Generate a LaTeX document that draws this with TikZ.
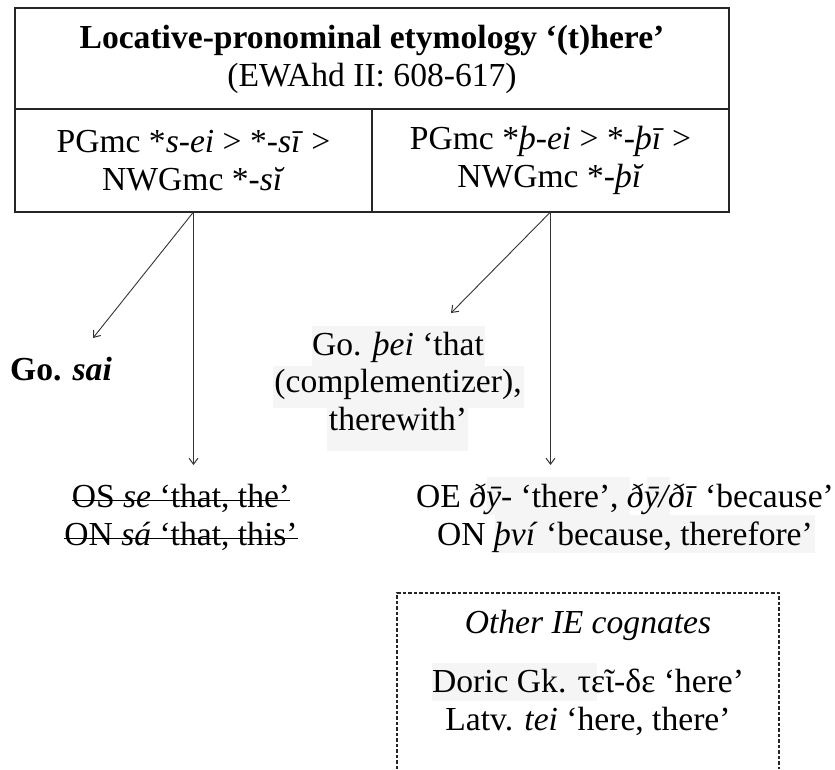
\documentclass[tikz,border=0pt]{standalone}
\usepackage{fontspec}
\setmainfont{Liberation Serif}
\usetikzlibrary{arrows.meta}
\begin{document}
\begin{tikzpicture}[x=1pt,y=-1pt,
  every node/.style={font=\fontsize{33.6}{38}\selectfont, inner sep=0pt},
  frame/.style={draw=black!85, line width=1.6pt, line join=miter},
  cell/.style={frame, outer sep=0pt, minimum width=357pt, minimum height=103pt, align=center},
  txt/.style={anchor=base},
  hl/.style={fill=black!4, draw=none},
  conn/.style={draw=black!80, line width=0.9pt, -{Straight Barb[length=6pt,width=9pt,line width=1pt]}},
  strike/.style={draw=black, line width=1pt},
  cogbox/.style={draw=black!85, line width=1.3pt, dash pattern=on 3.5pt off 2pt}]
\useasboundingbox (0,0) rectangle (835,769);

% faint highlight strips behind some glosses
\fill[hl] (312,326) rectangle (485,366);
\fill[hl] (273,366) rectangle (524,408);
\fill[hl] (327,408) rectangle (468,451);
\fill[hl] (487,477) rectangle (630,515);
\fill[hl] (647,477) rectangle (670,515);
\fill[hl] (495,515) rectangle (815,553);
\fill[hl] (432,663) rectangle (597,701);

% header: two cells with the title row above them
\node[cell] (pl) at (193.5,160.5)
  {PGmc *\textit{s-ei} > *\textit{-sī} >\\NWGmc *\textit{-sĭ}};
\node[cell] (pr) at (550.5,160.5)
  {PGmc *\textit{þ-ei} > *\textit{-þī} >\\NWGmc *\textit{-þĭ}};
\draw[frame] (pl.north west) -- ++(0,-101) -| (pr.north east);
\node[align=center] (title) at (372,59)
  {\textbf{Locative-pronominal etymology ‘(t)here’}\\(EWAhd II: 608-617)};

% reflexes
\node[txt] (gosai) at (61,380) {\textbf{Go. \textit{sai}}};
\node[txt] (th1) at (398,355) {Go. \textit{þei} ‘that};
\node[txt] (th2) at (398,392) {(complementizer),};
\node[txt] (th3) at (398,430) {therewith’};
\node[txt] (os) at (181,507) {OS \textit{se} ‘that, the’};
\node[txt] (on) at (181,545) {ON \textit{sá} ‘that, this’};
\node[txt] (oe) at (625,507) {OE \textit{ðȳ-} ‘there’, \textit{ðȳ/ðī} ‘because’};
\node[txt] (onr) at (625,545) {ON \textit{því} ‘because, therefore’};

% struck-out Old Saxon / Old Norse forms
\draw[strike] ([yshift=7pt]os.base west) -- ([yshift=7pt]os.base east);
\draw[strike] ([yshift=7pt]on.base west) -- ([yshift=7pt]on.base east);

% cognates box (open at the bottom)
\node[txt] (cog) at (588,633) {\textit{Other IE cognates}};
\node[txt] (doric) at (588,692) {Doric Gk. τεῖ-δε ‘here’};
\node[txt] (latv) at (588,730) {Latv. \textit{tei} ‘here, there’};
\draw[cogbox] (397,769) -- (397,593) -- (779,593) -- (779,769);

% derivations
\draw[conn] (pl.south) -- ([xshift=32pt,yshift=42pt]gosai.base);
\draw[conn] (pl.south) -- (pl.south |- 0,465);
\draw[conn] (pr.south) -- ([xshift=53pt,yshift=42pt]th1.base);
\draw[conn] (pr.south) -- (pr.south |- 0,465);
\end{tikzpicture}
\end{document}
